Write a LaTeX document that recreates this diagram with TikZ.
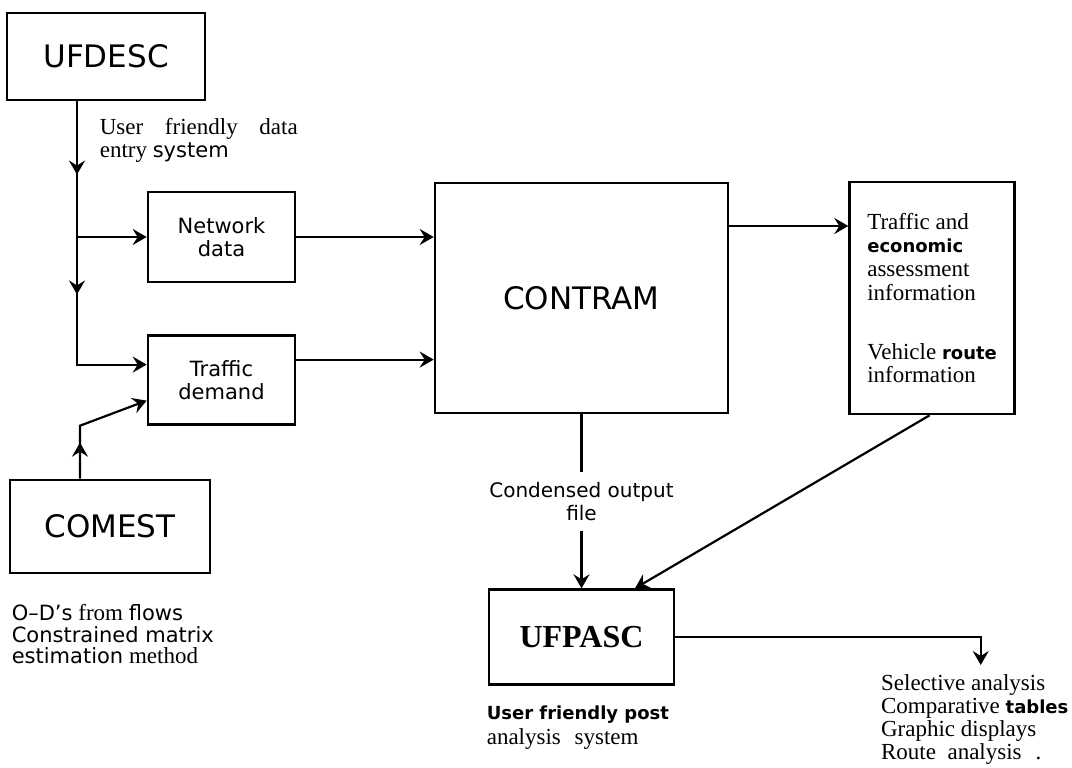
\documentclass[tikz,border=0pt]{standalone}
\usepackage{fontspec}
\setmainfont{Liberation Serif}
\setsansfont{DejaVu Sans}
\usetikzlibrary{arrows.meta,decorations.markings}
\usetikzlibrary{positioning}

\newcommand{\sfw}[1]{{\sffamily\fontsize{10.5}{11.5}\selectfont #1}}
\newcommand{\sfb}[1]{{\sffamily\bfseries\fontsize{9}{11.5}\selectfont #1}}

\begin{document}
\begin{tikzpicture} [
    x=0.5pt, y=-0.5pt, line width=1.1pt,
    prog/.style={rectangle, draw=black, line width=1.3pt, font=\sffamily\fontsize{15.5}{18}\selectfont},
    datafile/.style={rectangle, draw=black, line width=1.3pt, align=center, font=\sffamily\fontsize{10.5}{11.5}\selectfont},
    note/.style={inner sep=0pt, align=left, font=\fontsize{11.5}{11.5}\selectfont},
    midarrow/.style={postaction={decorate, decoration={markings, mark=at position #1 with {\arrow{>}}}}},
    >={Stealth[length=7pt,width=8pt,inset=2.5pt]}
    ]
    \useasboundingbox (0,0) rectangle (1072,767);
    %Nodes

    \node[prog, minimum width=99pt, minimum height=43.5pt]    (ufdesc)  at (106,56.5) {UFDESC};
    \node[datafile, minimum width=73.5pt, minimum height=45pt] (net)    at (221.5,237) {Network\\data};
    \node[datafile, minimum width=73.5pt, minimum height=44.5pt] (dem)  [below=25.5pt of net] {Traffic\\demand};
    \node[prog, minimum width=100pt, minimum height=46.5pt]   (comest)  at (110,526.5) {COMEST};
    \node[prog, minimum width=146.5pt, minimum height=115pt]  (contram) at (581.5,298) {CONTRAM};
    \node[prog, minimum width=82.5pt, minimum height=116pt, align=left, font=\fontsize{11.5}{11.85}\selectfont]
                                                               (info)    [right=59.5pt of contram]
        {Traffic and\\\sfb{economic}\\assessment\\information\\[17.5pt]Vehicle \sfb{route}\\information};
    \node[prog, minimum width=92.5pt, minimum height=47.5pt, font=\bfseries\fontsize{16}{18}\selectfont]
                                                               (ufpasc)  [below=87pt of contram] {UFPASC};

    \node[note]  (desctxt)   [below right=8pt and 46.5pt of ufdesc.south west]
        {\makebox[99pt][s]{User friendly data}\\entry \sfw{system}};
    \node[note, font=\fontsize{11.5}{10.75}\selectfont] (comesttxt) [below right=14.5pt and 1pt of comest.south west]
        {\sfw{O--D's} from \sfw{flows}\\\sfw{Constrained matrix}\\\sfw{estimation} method};
    \node[note, font=\fontsize{11.5}{12.5}\selectfont] (ufpasctxt) [below right=9.5pt and -1pt of ufpasc.south west]
        {\sfb{User friendly post}\\analysis\hspace{4pt} system};
    \node[note, inner sep=4pt, anchor=north west] (outlist) at (872,665)
        {Selective analysis\\Comparative \sfb{tables}\\Graphic displays\\Route\enspace analysis\hspace{7pt}.};

    %Lines
    \coordinate (trunk) at ([xshift=-14.5pt]ufdesc.south);
    \coordinate (demin) at ([yshift=7.75pt]dem.west);
    \draw[->, midarrow=0.22, midarrow=0.58] (trunk) |- (demin);
    \draw[->] (trunk |- net.west) -- (net.west);

    \coordinate (comout) at ([xshift=-15pt]comest.north);
    \coordinate (bend) at ([yshift=26.5pt]comout);
    \coordinate (demlow) at ([yshift=-10.25pt]dem.west);
    \draw[->, midarrow=0.29] (comout) -- (bend) -- (demlow);

    \draw[->] (net.east) -- (net.east -| contram.west);
    \coordinate (demout) at ([yshift=10.25pt]dem.east);
    \draw[->] (demout) -- (demout -| contram.west);
    \coordinate (resout) at ([yshift=36pt]contram.east);
    \draw[->] (resout) -- (resout -| info.west);
    \draw[->] ([xshift=-1.25pt]info.south) -- ([xshift=26.75pt]ufpasc.north);
    \draw[->] (contram.south) -- (ufpasc.north)
        node[midway, fill=white, inner sep=5pt, align=center, font=\sffamily\fontsize{10}{11.5}\selectfont] {Condensed output\\file};
    \draw[->] (ufpasc.east) -| ([xshift=3pt]outlist.north);
\end{tikzpicture}
\end{document}
